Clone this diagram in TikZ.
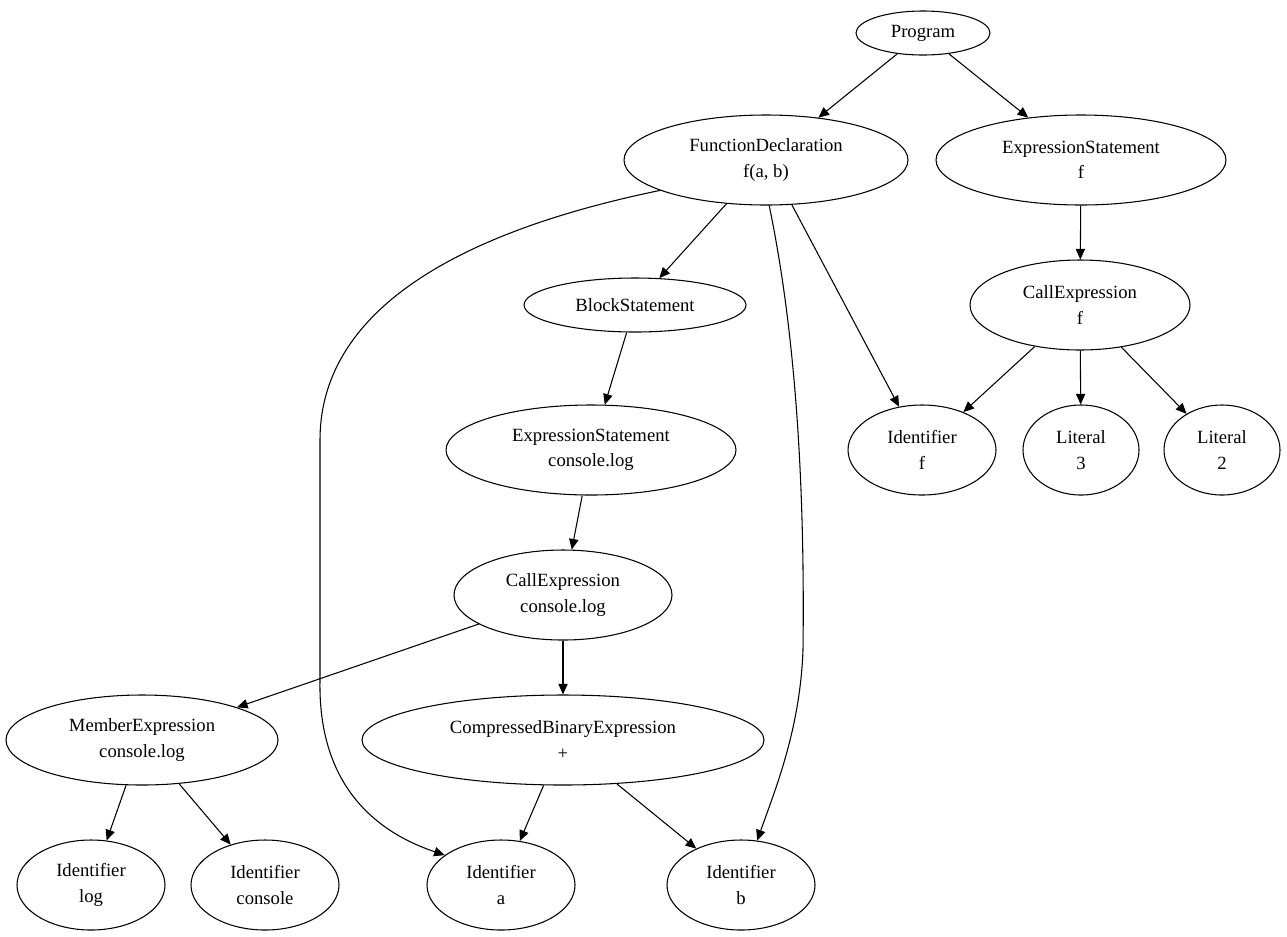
\documentclass[tikz,border=0pt]{standalone}
\usepackage{fontspec}
\setmainfont{Liberation Serif}
\usetikzlibrary{shapes.geometric,arrows.meta}
\tikzset{
  ast/.style 2 args={draw, ellipse, thick, inner sep=0pt, align=center,
    font=\fontsize{14}{19}\selectfont,
    minimum width=#1*1.5pt, minimum height=#2*1.5pt},
  edge/.style={thick, -{Triangle[length=8pt,width=7pt]}}
}
\begin{document}
\begin{tikzpicture}[x=0.75pt, y=-0.75pt]
\useasboundingbox (0,0) rectangle (1287,936);

  \node[ast={67}{22}] (prog) at (923,33) {Program};

  \node[ast={142}{45}] (fdecl) at (766,160) {FunctionDeclaration\\f(a, b)};
  \node[ast={145}{45}] (estf) at (1081,160) {ExpressionStatement\\f};

  \node[ast={111}{27}] (block) at (635,305) {BlockStatement};
  \node[ast={110}{45}] (callf) at (1080,305) {CallExpression\\f};

  \node[ast={145}{45}] (estlog) at (591,450) {ExpressionStatement\\console.log};
  \node[ast={74}{45}] (idf) at (922,450) {Identifier\\f};
  \node[ast={58}{45}] (lit3) at (1081,450) {Literal\\3};
  \node[ast={58}{45}] (lit2) at (1222,450) {Literal\\2};

  \node[ast={109}{45}] (calllog) at (563,595) {CallExpression\\console.log};

  \node[ast={136}{45}] (member) at (142,740) {MemberExpression\\console.log};
  \node[ast={201}{45}] (binexp) at (563,740) {CompressedBinaryExpression\\+};

  \node[ast={74}{45}] (idlog) at (91,885) {Identifier\\log};
  \node[ast={74}{45}] (idcons) at (265,885) {Identifier\\console};
  \node[ast={74}{45}] (ida) at (501,885) {Identifier\\a};
  \node[ast={74}{45}] (idb) at (741,885) {Identifier\\b};

  % tree edges
  \draw[edge] (prog) -- (fdecl);
  \draw[edge] (prog) -- (estf);
  \draw[edge] (fdecl) -- (block);
  \draw[edge] (estf) -- (callf);
  \draw[edge] (block) -- (estlog);
  \draw[edge] (callf) -- (idf);
  \draw[edge] (callf) -- (lit3);
  \draw[edge] (callf) -- (lit2);
  \draw[edge] (estlog) -- (calllog);
  \draw[edge] (calllog) -- (member);
  \draw[edge] (calllog) -- (binexp);
  \draw[edge] (member) -- (idlog);
  \draw[edge] (member) -- (idcons);
  \draw[edge] (binexp) -- (ida);
  \draw[edge] (binexp) -- (idb);

  % parameter edges
  \draw[edge] (fdecl.-60) -- (idf);
  \draw[edge] (fdecl.196) .. controls (420,240) and (320,330) .. (320,440)
    -- (320,680) .. controls (318,780) and (370,830) .. (ida.152);
  \draw[edge] (fdecl.-86) .. controls (795,330) and (805,480) .. (803,650)
    .. controls (800,730) and (775,790) .. (idb.70);

\end{tikzpicture}
\end{document}
